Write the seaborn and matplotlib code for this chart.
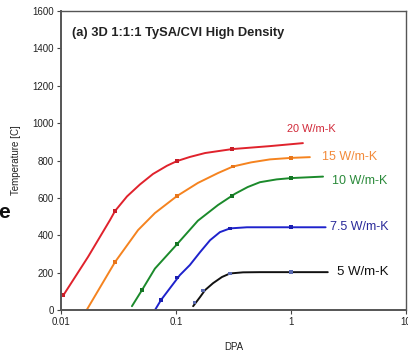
import numpy as np
import pandas as pd
import matplotlib
matplotlib.use("Agg")
import matplotlib.pyplot as plt
import seaborn as sns

# ---- data ----
dpa_20 = [0.0105, 0.0172, 0.0267, 0.0295, 0.0375, 0.0486, 0.0631, 0.0835, 0.102,
          0.132, 0.179, 0.307, 0.656, 1.27]
t_20 = [80, 285, 482, 530, 608, 672, 728, 772, 797, 819, 840, 861, 877, 893]

dpa_15 = [0.0167, 0.0295, 0.0468, 0.0656, 0.102, 0.155, 0.232, 0.313, 0.45, 0.656, 1.0, 1.46]
t_15 = [0, 257, 428, 519, 610, 680, 733, 768, 790, 806, 814, 818]

dpa_10 = [0.0414, 0.0506, 0.0656, 0.102, 0.155, 0.232, 0.326, 0.42, 0.537, 0.75, 1.0, 1.9]
t_10 = [21, 107, 222, 352, 478, 562, 622, 658, 684, 699, 706, 714]

dpa_75 = [0.0656, 0.0741, 0.108, 0.132, 0.162, 0.198, 0.241, 0.295, 0.414, 1.0, 2.0]
t_75 = [0, 54, 187, 241, 310, 374, 417, 437, 443, 443, 443]

dpa_5 = [0.141, 0.162, 0.179, 0.210, 0.251, 0.295, 0.383, 0.537, 1.0, 2.09]
t_5 = [21, 70, 107, 144, 177, 196, 202, 203, 203, 203]

series_names = ["20 W/m-K", "15 W/m-K", "10 W/m-K", "7.5 W/m-K", "5 W/m-K"]

# marker points
mk_20_x = [0.0105, 0.0295, 0.102, 0.307]
mk_20_y = [80, 530, 797, 861]
mk_15_x = [0.0295, 0.102, 0.313, 1.0]
mk_15_y = [257, 610, 768, 814]
mk_10_x = [0.0506, 0.102, 0.307, 1.0]
mk_10_y = [107, 352, 612, 706]
mk_75_x = [0.0741, 0.102, 0.295, 1.0]
mk_75_y = [54, 175, 437, 443]
mk_5_x = [0.145, 0.172, 0.295, 1.0]
mk_5_y = [40, 105, 196, 203]

x_ticks = [0.01, 0.1, 1, 10]
x_ticklabels = ["0.01", "0.1", "1", "10"]
y_ticks = [0, 200, 400, 600, 800, 1000, 1200, 1400, 1600]
y_ticklabels = ["0", "200", "400", "600", "800", "1000", "1200", "1400", "1600"]

title_text = "(a) 3D 1:1:1 TySA/CVI High Density"

# ---- styles ----
line_colors = ["#e0222c", "#f5831f", "#1b8a2b", "#1e22cc", "#111111"]
label_colors = ["#d12a3a", "#f28a3a", "#2a8a3a", "#2a2a9a", "#111111"]
marker_colors = ["#c81e28", "#e8761a", "#157524", "#1a1eb0", "#5a6ab0"]

sns.set_theme(style="white")
plt.rcParams["font.family"] = ["Liberation Sans", "DejaVu Sans"]

frames = []
for name, xs, ys in zip(series_names,
                        [dpa_20, dpa_15, dpa_10, dpa_75, dpa_5],
                        [t_20, t_15, t_10, t_75, t_5]):
    frames.append(pd.DataFrame({"DPA": xs, "T": ys, "series": name}))
df = pd.concat(frames, ignore_index=True)

mframes = []
for name, xs, ys in zip(series_names,
                        [mk_20_x, mk_15_x, mk_10_x, mk_75_x, mk_5_x],
                        [mk_20_y, mk_15_y, mk_10_y, mk_75_y, mk_5_y]):
    mframes.append(pd.DataFrame({"DPA": xs, "T": ys, "series": name}))
mdf = pd.concat(mframes, ignore_index=True)

fig = plt.figure(figsize=(4.08, 3.52), dpi=100)
ax = fig.add_axes([0.1495, 0.119, 0.8455, 0.85])

sns.lineplot(data=df, x="DPA", y="T", hue="series", hue_order=series_names,
             palette=line_colors, sort=False, estimator=None, units="series",
             linewidth=1.4, legend=False, ax=ax)
sns.scatterplot(data=mdf, x="DPA", y="T", hue="series", hue_order=series_names,
                palette=marker_colors, marker="s", s=7, linewidth=0,
                legend=False, ax=ax, zorder=5)

ax.set_xscale("log")
ax.set_xlim(0.01, 10)
ax.set_ylim(0, 1600)
ax.set_xticks(x_ticks)
ax.set_xticklabels(x_ticklabels)
ax.minorticks_off()
ax.set_yticks(y_ticks)
ax.set_yticklabels(y_ticklabels)
ax.tick_params(axis="both", which="major", direction="out", length=3, width=0.8,
               color="#444444", labelsize=7, pad=2, labelcolor="#222222",
               bottom=True, left=True)
for side, sp in ax.spines.items():
    sp.set_color("#555555")
    sp.set_linewidth(1.0 if side in ("top", "right") else 1.4)

ax.set_xlabel("DPA", fontsize=7, color="#222222", labelpad=11)
ax.set_ylabel("Temperature [C]", fontsize=7, color="#222222", labelpad=8)

ax.text(0.033, 0.926, title_text, transform=ax.transAxes, fontsize=9.3,
        fontweight="bold", color="#222222", ha="left", va="center")

label_pos = [(0.92, 968), (1.86, 818), (2.27, 692), (2.2, 444), (2.5, 203)]
label_sizes = [7.9, 9, 9, 9, 9.5]
for name, (lx, ly), c, fs in zip(series_names, label_pos, label_colors, label_sizes):
    ax.text(lx, ly, name, fontsize=fs, color=c, ha="left", va="center")

fig.text(-0.005, 0.395, "e", fontsize=15, fontweight="bold", color="#111111",
         ha="left", va="center")

fig.savefig("out.png", dpi=100)
